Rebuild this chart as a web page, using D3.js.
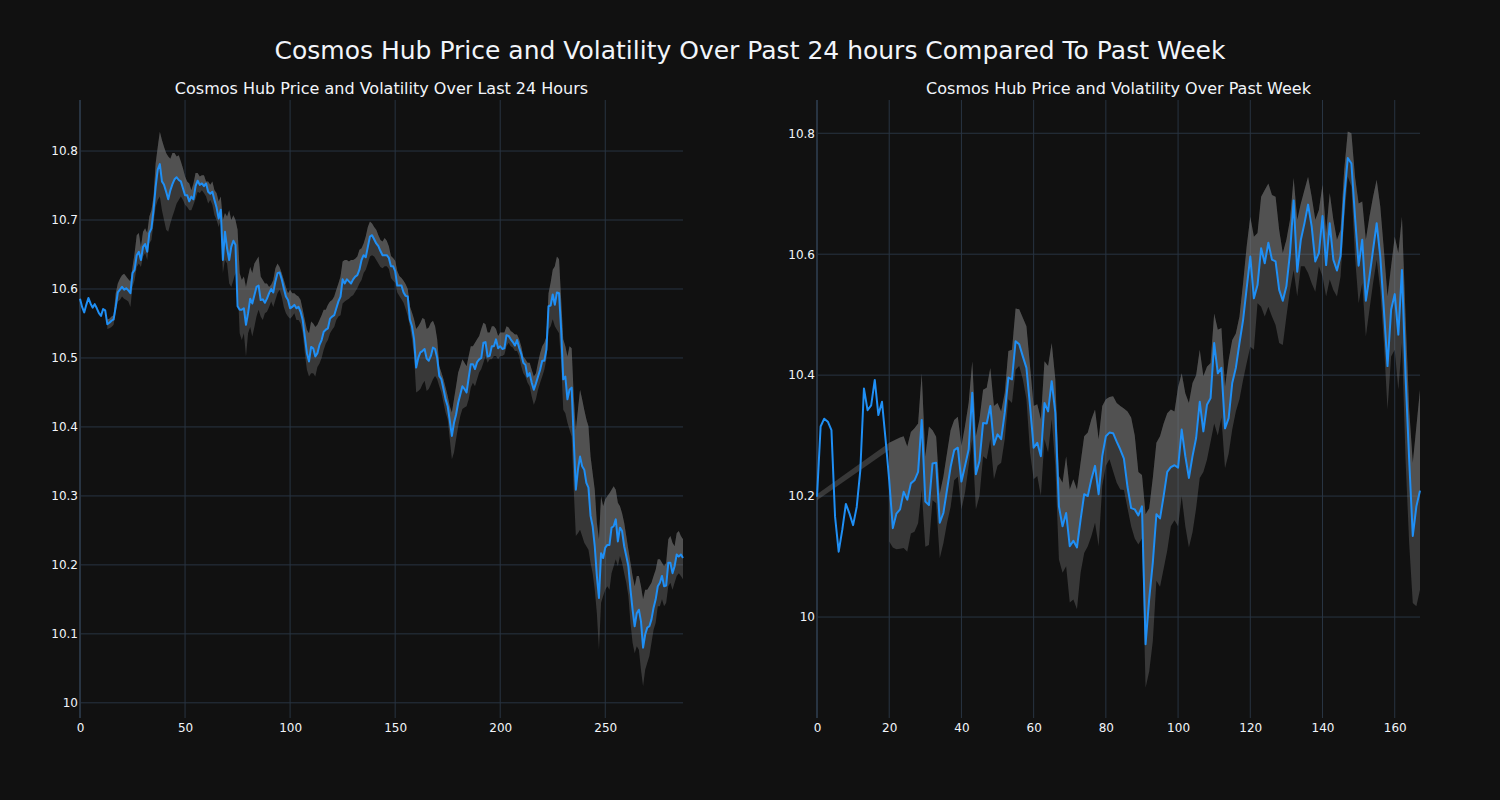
<!DOCTYPE html>
<html><head><meta charset="utf-8">
<script src="https://cdn.jsdelivr.net/npm/d3@7"></script>
<style>
body{margin:0;background:#111111}
svg{display:block}
text{font-family:"DejaVu Sans",sans-serif;fill:#f2f5fa}
</style>
</head><body>
<svg id="c" width="1500" height="800"></svg>
<script>
// ---------- Data: last 24 hours (5-minute steps) ----------
const dayPrice = [
10.586,10.574,10.566,10.577,10.587,10.579,10.573,10.578,10.572,10.565,
10.561,10.571,10.569,10.549,10.551,10.554,10.556,10.574,10.595,10.599,
10.603,10.599,10.601,10.598,10.594,10.623,10.628,10.649,10.654,10.642,
10.661,10.665,10.654,10.681,10.688,10.714,10.748,10.773,10.781,10.756,
10.751,10.741,10.730,10.743,10.752,10.759,10.762,10.758,10.756,10.746,
10.736,10.736,10.727,10.734,10.730,10.749,10.757,10.751,10.753,10.749,
10.753,10.741,10.738,10.741,10.729,10.718,10.702,10.715,10.642,10.683,
10.659,10.642,10.661,10.670,10.664,10.575,10.570,10.570,10.572,10.548,
10.565,10.586,10.579,10.591,10.603,10.605,10.584,10.585,10.580,10.586,
10.594,10.600,10.595,10.611,10.623,10.624,10.614,10.601,10.589,10.584,
10.572,10.574,10.577,10.572,10.574,10.567,10.555,10.531,10.507,10.495,
10.516,10.514,10.502,10.507,10.519,10.526,10.538,10.541,10.543,10.557,
10.560,10.562,10.572,10.582,10.589,10.614,10.608,10.614,10.611,10.608,
10.614,10.618,10.620,10.628,10.642,10.649,10.646,10.661,10.676,10.678,
10.672,10.666,10.662,10.655,10.649,10.649,10.649,10.645,10.633,10.633,
10.626,10.605,10.605,10.605,10.595,10.590,10.589,10.556,10.546,10.527,
10.486,10.500,10.508,10.510,10.513,10.499,10.496,10.503,10.515,10.513,
10.500,10.474,10.469,10.455,10.440,10.430,10.409,10.387,10.406,10.418,
10.435,10.447,10.459,10.455,10.450,10.471,10.491,10.491,10.484,10.494,
10.498,10.500,10.522,10.523,10.502,10.503,10.517,10.517,10.527,10.514,
10.517,10.513,10.514,10.533,10.532,10.527,10.523,10.518,10.526,10.515,
10.506,10.493,10.490,10.473,10.478,10.464,10.454,10.463,10.473,10.483,
10.496,10.496,10.512,10.575,10.576,10.592,10.577,10.595,10.594,10.541,
10.469,10.473,10.440,10.454,10.457,10.382,10.309,10.338,10.357,10.343,
10.338,10.319,10.312,10.271,10.256,10.227,10.184,10.152,10.217,10.210,
10.225,10.229,10.229,10.254,10.256,10.266,10.234,10.254,10.249,10.227,
10.213,10.198,10.164,10.135,10.111,10.130,10.135,10.118,10.080,10.099,
10.109,10.111,10.121,10.138,10.150,10.169,10.174,10.184,10.169,10.170,
10.203,10.203,10.188,10.198,10.215,10.212,10.215,10.210];

const dayUpper = [
null,null,null,null,null,null,null,null,null,null,
null,null,null,10.556,10.557,10.560,10.562,10.594,10.608,10.615,
10.620,10.622,10.618,10.614,10.611,10.632,10.652,10.678,10.681,10.661,
10.683,10.688,10.681,10.705,10.714,10.734,10.782,10.806,10.828,10.816,
10.806,10.797,10.792,10.789,10.797,10.797,10.792,10.794,10.785,10.775,
10.763,10.756,10.753,10.743,10.753,10.768,10.768,10.763,10.765,10.765,
10.756,10.756,10.751,10.756,10.743,10.739,10.727,10.734,10.700,10.710,
10.705,10.714,10.700,10.707,10.700,10.686,10.623,10.613,10.618,10.603,
10.618,10.632,10.623,10.637,10.642,10.647,10.618,10.613,10.608,10.608,
10.603,10.606,10.613,10.630,10.637,10.632,10.623,10.613,10.603,10.594,
10.599,10.594,10.594,10.591,10.589,10.584,10.570,10.555,10.541,10.536,
10.553,10.550,10.545,10.548,10.555,10.562,10.570,10.570,10.577,10.582,
10.584,10.589,10.599,10.608,10.618,10.640,10.642,10.642,10.640,10.642,
10.642,10.644,10.647,10.657,10.659,10.666,10.676,10.690,10.698,10.695,
10.690,10.686,10.678,10.671,10.669,10.674,10.670,10.662,10.648,10.645,
10.641,10.626,10.619,10.616,10.612,10.607,10.600,10.575,10.566,10.556,
10.542,10.546,10.551,10.558,10.556,10.542,10.544,10.551,10.554,10.546,
10.527,10.488,10.479,10.469,10.457,10.445,10.430,10.421,10.440,10.459,
10.479,10.488,10.498,10.493,10.488,10.503,10.517,10.517,10.522,10.527,
10.532,10.542,10.551,10.549,10.537,10.537,10.546,10.546,10.542,10.532,
10.537,10.537,10.537,10.546,10.544,10.539,10.537,10.534,10.534,10.527,
10.517,10.502,10.498,10.493,10.493,10.483,10.473,10.478,10.493,10.507,
10.517,10.522,10.531,10.594,10.609,10.628,10.633,10.647,10.643,10.585,
10.527,10.517,10.502,10.517,10.514,10.444,10.396,10.425,10.454,10.440,
10.425,10.411,10.401,10.357,10.333,10.309,10.261,10.237,10.300,10.285,
10.295,10.300,10.304,10.309,10.314,10.309,10.290,10.285,10.275,10.261,
10.242,10.222,10.203,10.184,10.169,10.184,10.184,10.169,10.150,10.164,
10.164,10.169,10.174,10.184,10.193,10.208,10.208,10.203,10.198,10.203,
10.237,10.242,10.232,10.227,10.246,10.249,10.242,10.237];

const dayLower = [
null,null,null,null,null,null,null,null,null,null,
null,null,null,10.542,10.543,10.545,10.548,10.567,10.582,10.584,
10.589,10.586,10.584,10.582,10.574,10.603,10.613,10.632,10.637,10.632,
10.647,10.652,10.642,10.666,10.671,10.695,10.719,10.729,10.734,10.714,
10.700,10.686,10.683,10.695,10.705,10.714,10.724,10.729,10.734,10.729,
10.722,10.719,10.714,10.714,10.722,10.731,10.741,10.739,10.743,10.739,
10.734,10.724,10.729,10.722,10.707,10.700,10.690,10.700,10.623,10.642,
10.637,10.608,10.603,10.613,10.623,10.608,10.536,10.526,10.536,10.502,
10.536,10.545,10.531,10.545,10.560,10.570,10.560,10.555,10.565,10.567,
10.574,10.582,10.574,10.584,10.594,10.599,10.589,10.574,10.565,10.560,
10.557,10.560,10.565,10.555,10.555,10.550,10.536,10.507,10.483,10.473,
10.478,10.478,10.473,10.487,10.492,10.500,10.512,10.521,10.526,10.536,
10.541,10.545,10.555,10.560,10.562,10.579,10.582,10.584,10.586,10.589,
10.591,10.596,10.601,10.608,10.613,10.623,10.628,10.637,10.647,10.649,
10.647,10.642,10.637,10.632,10.630,10.633,10.633,10.629,10.616,10.612,
10.609,10.595,10.590,10.585,10.580,10.571,10.561,10.546,10.527,10.503,
10.450,10.452,10.455,10.462,10.467,10.452,10.455,10.462,10.469,10.474,
10.469,10.459,10.450,10.435,10.421,10.411,10.382,10.353,10.363,10.382,
10.401,10.416,10.426,10.428,10.430,10.440,10.457,10.464,10.459,10.469,
10.479,10.484,10.493,10.503,10.493,10.498,10.498,10.503,10.503,10.498,
10.503,10.503,10.505,10.517,10.522,10.517,10.515,10.510,10.510,10.503,
10.488,10.478,10.473,10.464,10.459,10.444,10.432,10.440,10.454,10.464,
10.473,10.483,10.498,10.541,10.546,10.556,10.546,10.541,10.536,10.493,
10.425,10.420,10.406,10.396,10.386,10.309,10.242,10.246,10.251,10.242,
10.232,10.227,10.222,10.203,10.188,10.164,10.130,10.077,10.145,10.155,
10.164,10.169,10.164,10.188,10.198,10.208,10.198,10.213,10.203,10.188,
10.174,10.155,10.116,10.087,10.072,10.082,10.077,10.048,10.024,10.048,
10.058,10.068,10.087,10.106,10.116,10.140,10.140,10.150,10.140,10.145,
10.169,10.174,10.164,10.174,10.184,10.188,10.184,10.179];

// ---------- Data: past week (hourly steps) ----------
const weekPrice = [
10.199,10.315,10.328,10.323,10.309,10.166,10.108,10.144,10.187,10.171,
10.152,10.182,10.243,10.378,10.342,10.350,10.392,10.334,10.356,10.293,
10.226,10.147,10.171,10.178,10.207,10.194,10.221,10.226,10.240,10.326,
10.191,10.185,10.254,10.255,10.156,10.172,10.210,10.248,10.276,10.280,
10.224,10.250,10.277,10.371,10.236,10.258,10.321,10.320,10.349,10.285,
10.302,10.294,10.338,10.396,10.393,10.456,10.451,10.431,10.412,10.349,
10.280,10.288,10.266,10.354,10.340,10.390,10.338,10.183,10.150,10.172,
10.117,10.126,10.115,10.161,10.203,10.200,10.228,10.250,10.203,10.266,
10.299,10.305,10.304,10.290,10.277,10.262,10.215,10.180,10.178,10.168,
10.183,9.955,10.030,10.090,10.170,10.163,10.200,10.240,10.248,10.251,
10.247,10.310,10.266,10.230,10.266,10.296,10.356,10.307,10.351,10.362,
10.453,10.403,10.412,10.312,10.329,10.387,10.412,10.453,10.491,10.544,
10.596,10.527,10.549,10.610,10.585,10.619,10.591,10.588,10.541,10.523,
10.547,10.602,10.689,10.571,10.624,10.651,10.682,10.646,10.588,10.602,
10.663,10.582,10.651,10.591,10.573,10.597,10.693,10.759,10.750,10.662,
10.581,10.624,10.523,10.563,10.607,10.651,10.596,10.508,10.415,10.508,
10.534,10.467,10.574,10.398,10.260,10.134,10.183,10.209];

const weekUpper = [
null,null,null,null,null,null,null,null,null,null,
null,null,null,null,null,null,null,null,null,null,
10.288,10.291,10.294,10.297,10.299,10.282,10.306,10.312,10.320,10.403,
10.265,10.315,10.309,10.298,10.204,10.232,10.271,10.309,10.326,10.331,
10.283,10.316,10.354,10.423,10.299,10.327,10.376,10.379,10.412,10.349,
10.354,10.340,10.371,10.440,10.442,10.510,10.509,10.495,10.481,10.415,
10.349,10.352,10.327,10.423,10.415,10.453,10.393,10.233,10.222,10.266,
10.211,10.228,10.211,10.255,10.299,10.305,10.327,10.343,10.294,10.349,
10.360,10.364,10.365,10.354,10.349,10.345,10.340,10.330,10.300,10.240,
10.235,10.170,10.180,10.230,10.288,10.299,10.320,10.337,10.343,10.340,
10.380,10.403,10.370,10.354,10.387,10.400,10.442,10.398,10.414,10.420,
10.502,10.475,10.478,10.381,10.425,10.458,10.469,10.497,10.552,10.613,
10.662,10.629,10.635,10.695,10.706,10.717,10.698,10.695,10.640,10.602,
10.624,10.657,10.726,10.657,10.684,10.706,10.728,10.695,10.657,10.673,
10.715,10.635,10.701,10.657,10.624,10.640,10.739,10.803,10.800,10.728,
10.684,10.687,10.624,10.662,10.695,10.723,10.679,10.607,10.530,10.580,
10.629,10.602,10.662,10.497,10.343,10.255,10.315,10.376];

const weekLower = [
null,null,null,null,null,null,null,null,null,null,
null,null,null,null,null,null,null,null,null,null,
10.125,10.115,10.112,10.113,10.114,10.108,10.138,10.141,10.155,10.210,
10.116,10.119,10.193,10.188,10.097,10.122,10.155,10.182,10.226,10.232,
10.178,10.206,10.250,10.294,10.178,10.200,10.266,10.261,10.294,10.228,
10.250,10.255,10.294,10.360,10.354,10.409,10.415,10.393,10.360,10.272,
10.228,10.233,10.200,10.294,10.272,10.327,10.250,10.095,10.073,10.084,
10.024,10.029,10.013,10.073,10.106,10.117,10.134,10.156,10.117,10.217,
10.250,10.261,10.241,10.222,10.211,10.210,10.180,10.150,10.130,10.120,
10.130,9.883,9.910,9.960,10.060,10.050,10.080,10.110,10.150,10.160,
10.150,10.200,10.150,10.115,10.140,10.180,10.230,10.240,10.260,10.290,
10.320,10.300,10.330,10.246,10.270,10.310,10.340,10.360,10.392,10.420,
10.447,10.442,10.519,10.513,10.497,10.513,10.497,10.483,10.453,10.450,
10.497,10.541,10.574,10.530,10.580,10.580,10.569,10.552,10.538,10.580,
10.563,10.530,10.558,10.541,10.530,10.563,10.657,10.728,10.712,10.596,
10.519,10.552,10.464,10.508,10.552,10.591,10.541,10.453,10.343,10.431,
10.442,10.376,10.453,10.260,10.122,10.023,10.018,10.045];

// thin shaded strip bridging the undefined start of the weekly band
const weekBridgeX = [0, 20];
const weekBridgeUpper = [10.203, 10.288];
const weekBridgeLower = [10.193, 10.276];

// ---------- Ticks / labels ----------
const dayXTicks = [0, 50, 100, 150, 200, 250];
const dayYTicks = [10, 10.1, 10.2, 10.3, 10.4, 10.5, 10.6, 10.7, 10.8];
const weekXTicks = [0, 20, 40, 60, 80, 100, 120, 140, 160];
const weekYTicks = [10, 10.2, 10.4, 10.6, 10.8];

const mainTitle = "Cosmos Hub Price and Volatility Over Past 24 hours Compared To Past Week";
const dayTitle = "Cosmos Hub Price and Volatility Over Last 24 Hours";
const weekTitle = "Cosmos Hub Price and Volatility Over Past Week";

// ---------- Drawing ----------
const svg = d3.select("#c");
svg.append("rect").attr("width",1500).attr("height",800).attr("fill","#111111");

const GRID = "#283442";
const LINE = "#1f8ff5";
const FILL = "rgba(128,128,128,0.35)";
const fmt = v => String(+v.toFixed(1));

svg.append("text").attr("x",750).attr("y",59).attr("text-anchor","middle")
  .attr("font-size",25).text(mainTitle);

function panel(opts){
  const {x0,x1,y0,y1,xDom,yDom,price,upper,lower,xTicks,yTicks,title,bridge} = opts;
  const x = d3.scaleLinear().domain(xDom).range([x0,x1]);
  const y = d3.scaleLinear().domain(yDom).range([y1,y0]);
  const g = svg.append("g");

  // grid
  g.append("g").selectAll("line").data(yTicks).join("line")
    .attr("x1",x0).attr("x2",x1).attr("y1",d=>y(d)).attr("y2",d=>y(d))
    .attr("stroke",GRID).attr("stroke-width",1);
  g.append("g").selectAll("line").data(xTicks).join("line")
    .attr("x1",d=>x(d)).attr("x2",d=>x(d)).attr("y1",y0).attr("y2",y1)
    .attr("stroke",GRID).attr("stroke-width",d=>d===0?2:1);

  // axes labels
  const ax = g.append("g").attr("transform",`translate(0,${y1})`)
    .call(d3.axisBottom(x).tickValues(xTicks).tickSize(0).tickPadding(5).tickFormat(d3.format("d")));
  ax.select(".domain").remove();
  ax.selectAll("text").attr("font-size",12).attr("font-family","DejaVu Sans").attr("fill","#f2f5fa");
  const ay = g.append("g").attr("transform",`translate(${x0},0)`)
    .call(d3.axisLeft(y).tickValues(yTicks).tickSize(0).tickPadding(2).tickFormat(fmt));
  ay.select(".domain").remove();
  ay.selectAll("text").attr("font-size",12).attr("font-family","DejaVu Sans").attr("fill","#f2f5fa");

  const data = price.map((p,i)=>({i,p,u:upper[i],l:lower[i]}));
  const def = d => d.u != null && d.l != null;

  // bridge strip
  if (bridge){
    const bd = bridge.x.map((xx,k)=>({x:xx,u:bridge.u[k],l:bridge.l[k]}));
    const ba = d3.area().x(d=>x(d.x)).y0(d=>y(d.l)).y1(d=>y(d.u));
    g.append("path").attr("d",ba(bd)).attr("fill",FILL);
  }
  // full band
  g.append("path").attr("d", d3.area().defined(def).x(d=>x(d.i)).y0(d=>y(d.l)).y1(d=>y(d.u))(data))
    .attr("fill",FILL);
  // upper half (price -> upper), overlapped
  g.append("path").attr("d", d3.area().defined(def).x(d=>x(d.i)).y0(d=>y(d.p)).y1(d=>y(d.u))(data))
    .attr("fill",FILL);
  // price line
  g.append("path").attr("d", d3.line().x(d=>x(d.i)).y(d=>y(d.p))(data))
    .attr("fill","none").attr("stroke",LINE).attr("stroke-width",2).attr("stroke-linejoin","round");

  svg.append("text").attr("x",(x0+x1)/2).attr("y",94).attr("text-anchor","middle")
    .attr("font-size",16).text(title);
}

panel({x0:80,x1:683,y0:100,y1:718,xDom:[0,287],yDom:[9.978,10.874],
  price:dayPrice,upper:dayUpper,lower:dayLower,xTicks:dayXTicks,yTicks:dayYTicks,title:dayTitle});
panel({x0:817,x1:1420,y0:100,y1:718,xDom:[0,167],yDom:[9.833,10.855],
  price:weekPrice,upper:weekUpper,lower:weekLower,xTicks:weekXTicks,yTicks:weekYTicks,title:weekTitle,
  bridge:{x:weekBridgeX,u:weekBridgeUpper,l:weekBridgeLower}});
</script>
</body></html>
